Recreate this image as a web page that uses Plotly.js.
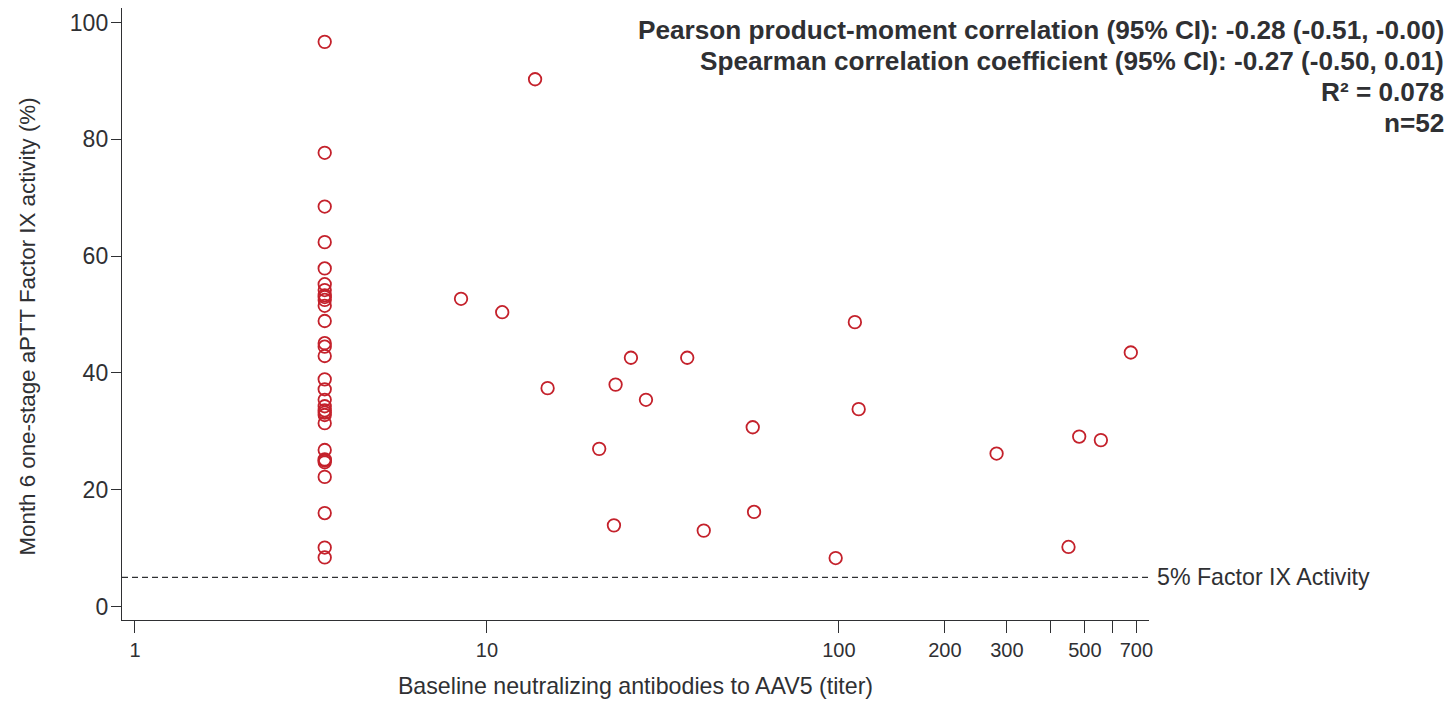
<!DOCTYPE html>
<html>
<head>
<meta charset="utf-8">
<script src="https://cdn.plot.ly/plotly-3.0.1.min.js"></script>
<style>html,body{margin:0;padding:0;background:#fff;}#chart{width:1455px;height:705px;}</style>
</head>
<body>
<div id="chart"></div>
<script>
// Baseline neutralizing antibody titer (x) and Month 6 FIX activity % (y)
const clusterTiter = 3.46;
const clusterActivity = [96.7, 77.7, 68.5, 62.4, 57.9, 55.2, 54.2, 53.3, 53.0, 52.5, 51.5, 48.9,
  45.1, 44.5, 42.9, 38.9, 37.2, 35.4, 34.3, 33.6, 33.2, 32.8, 31.4, 26.8, 25.2, 25.0, 24.7,
  22.2, 16.0, 10.1, 8.4];
const otherTiter = [8.44, 11.05, 13.7, 14.87, 20.84, 22.95, 23.2, 25.65, 28.3, 37.07, 41.3,
  56.9, 57.4, 97.9, 111, 113.8, 280.5, 449, 481.6, 555, 675];
const otherActivity = [52.7, 50.4, 90.3, 37.4, 27.0, 13.9, 38.0, 42.6, 35.4, 42.6, 13.0,
  30.7, 16.2, 8.3, 48.7, 33.8, 26.2, 10.2, 29.1, 28.5, 43.5];

const xTickVals = [1, 10, 100, 200, 300, 400, 500, 600, 700];
const xTickText = ["1", "10", "100", "200", "300", "", "500", "", "700"];
const yTickVals = [0, 20, 40, 60, 80, 100];
const thresholdValue = 5;
const thresholdLabel = "5% Factor IX Activity";
const xTitle = "Baseline neutralizing antibodies to AAV5 (titer)";
const yTitle = "Month 6 one-stage aPTT Factor IX activity (%)";
const statLines = [
  "Pearson product-moment correlation (95% CI): -0.28 (-0.51, -0.00)",
  "Spearman correlation coefficient (95% CI): -0.27 (-0.50, 0.01)",
  "R² = 0.078",
  "n=52"
];
const statY = [98.8, 93.4, 88.1, 82.8];

const xs = clusterActivity.map(() => clusterTiter).concat(otherTiter);
const ys = clusterActivity.concat(otherActivity);

const red = "#c4212b";
const ink = "#2f3033";
const font = "Liberation Sans, Arial, Helvetica, sans-serif";

const trace = {
  type: "scatter", mode: "markers", x: xs, y: ys,
  marker: {symbol: "circle-open", size: 12.5, color: red, line: {color: red, width: 1.8}},
  hoverinfo: "x+y", showlegend: false
};

const annotations = statLines.map((t, i) => ({
  text: "<b>" + t + "</b>", xref: "paper", yref: "y", x: 1.289, y: statY[i],
  xanchor: "right", yanchor: "middle", showarrow: false,
  font: {family: font, size: 26.2, color: ink}
}));
annotations.push({
  text: thresholdLabel, xref: "paper", yref: "y", x: 1.006, y: thresholdValue,
  xanchor: "left", yanchor: "middle", showarrow: false,
  font: {family: font, size: 23.2, color: ink}
});
annotations.push({
  text: yTitle, xref: "paper", yref: "paper", x: -0.0925, y: 0.4796,
  xanchor: "center", yanchor: "middle", textangle: -90, showarrow: false,
  font: {family: font, size: 22.3, color: ink}
});

const layout = {
  width: 1455, height: 705,
  margin: {l: 122, r: 306, t: 8, b: 85, pad: 0},
  paper_bgcolor: "#fff", plot_bgcolor: "#fff",
  font: {family: font, color: ink},
  xaxis: {
    type: "log", range: [-0.0369, 2.881],
    tickmode: "array", tickvals: xTickVals, ticktext: xTickText,
    ticks: "outside", ticklen: 12, tickwidth: 1, tickcolor: ink,
    showline: true, linecolor: ink, linewidth: 1.2,
    showgrid: false, zeroline: false,
    tickfont: {family: font, size: 20, color: ink},
    title: {text: xTitle, font: {family: font, size: 23.2, color: ink}, standoff: 17}
  },
  yaxis: {
    range: [-2.31, 102.5],
    tickmode: "array", tickvals: yTickVals,
    ticks: "outside", ticklen: 10, tickwidth: 1, tickcolor: ink,
    showline: true, linecolor: ink, linewidth: 1.2,
    showgrid: false, zeroline: false,
    ticklabelstandoff: -2,
    tickfont: {family: font, size: 23, color: ink}
  },
  shapes: [{
    type: "line", xref: "paper", yref: "y", x0: 0, x1: 1, y0: thresholdValue, y1: thresholdValue,
    line: {color: ink, width: 1.2, dash: "6px,4px"}
  }],
  annotations: annotations
};

Plotly.newPlot("chart", [trace], layout, {displayModeBar: false, staticPlot: true});
</script>
</body>
</html>
